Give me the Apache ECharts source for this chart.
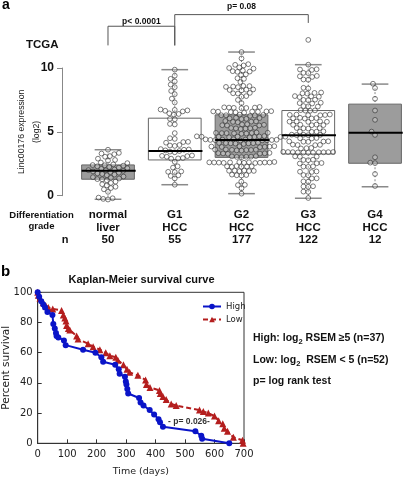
<!DOCTYPE html>
<html>
<head>
<meta charset="utf-8">
<script src="https://cdn.jsdelivr.net/npm/echarts@6/dist/echarts.min.js"></script>
<style>html,body{margin:0;padding:0;background:#fff}#c{width:404px;height:479px}</style>
</head>
<body>
<div id="c"></div>
<script>
// ---------- Panel a data ----------
const categories = ['normal\nliver', 'G1\nHCC', 'G2\nHCC', 'G3\nHCC', 'G4\nHCC'];
const groupN = [50, 55, 177, 122, 12];
const expressionTicks = [0, 5, 10];
const normalLiver = [3.6, 3.35, 3.3, 3.25, 3.1, 3.05, 2.9, 2.8, 2.75, 2.6, 2.55, 2.45, 2.4, 2.38, 2.35, 2.3, 2.25, 2.2, 2.15, 2.1,
  2.05, 2.0, 1.98, 1.95, 1.9, 1.85, 1.8, 1.75, 1.7, 1.65, 1.6, 1.5, 1.45, 1.4, 1.35, 1.3, 1.28, 1.2, 1.1, 1.0,
  0.9, 0.8, 0.7, 0.6, 0.5, 0.3, -0.15, -0.2, -0.25, -0.3];
const g1HCC = [9.87, 9.4, 9.15, 8.95, 8.7, 8.5, 8.2, 7.95, 7.6, 7.3, 6.75, 6.72, 6.68, 6.65, 6.6, 6.45, 6.4, 6.35,
  6.02, 5.98, 5.62, 5.58, 4.9, 4.5, 4.45, 4.22, 4.2, 4.15, 3.97, 3.93, 3.9, 3.65, 3.62, 3.6, 3.55, 3.5, 3.45, 3.4,
  3.15, 3.12, 3.1, 3.05, 2.95, 2.92, 2.9, 2.65, 2.3, 2.2, 1.9, 1.87, 1.85, 1.6, 1.55, 1.35, 0.86];
const g2HCC = [11.25, 10.75, 10.3, 10.25, 10.2, 10.05, 10.0, 9.95, 9.8, 9.75, 9.72, 9.7, 9.5, 9.45, 9.2, 9.15, 8.9,
  8.6, 8.58, 8.55, 8.52, 8.5, 8.32, 8.3, 8.28, 8.25, 8.05, 8.02, 8.0, 7.8, 7.75, 7.5, 7.25,
  6.95, 6.92, 6.9, 6.9, 6.88, 6.87, 6.85, 6.62, 6.6, 6.6, 6.58, 6.57, 6.55, 6.53, 6.5, 6.59,
  6.35, 6.32, 6.3, 6.3, 6.28, 6.25, 6.1, 6.08, 6.05, 6.02, 6.0, 5.85, 5.82, 5.8, 5.78, 5.75,
  5.6, 5.58, 5.55, 5.52, 5.5, 5.5, 5.32, 5.3, 5.28, 5.27, 5.25, 5.22,
  4.95, 4.93, 4.92, 4.9, 4.9, 4.88, 4.87, 4.85, 4.91, 4.67, 4.65, 4.63, 4.62, 4.62, 4.6, 4.6, 4.58, 4.57, 4.64, 4.61,
  4.41, 4.4, 4.39, 4.38, 4.37, 4.36, 4.35, 4.34, 4.33, 4.42, 4.32, 4.15, 4.13, 4.12, 4.1, 4.1, 4.08, 4.05, 4.11,
  3.88, 3.87, 3.85, 3.84, 3.83, 3.82, 3.8, 3.62, 3.6, 3.59, 3.58, 3.57, 3.55, 3.53, 3.61,
  3.35, 3.33, 3.32, 3.31, 3.3, 3.28, 3.1, 3.08, 3.06, 3.05, 3.04, 3.02,
  2.64, 2.63, 2.62, 2.61, 2.6, 2.6, 2.6, 2.59, 2.58, 2.58, 2.57, 2.56, 2.61, 2.32, 2.3, 2.3, 2.28, 2.27, 2.26,
  1.97, 1.96, 1.95, 1.94, 1.93, 1.92, 1.65, 1.62, 1.6, 1.58, 1.1, 0.85, 0.83, 0.58, 0.16];
const g3HCC = [12.2, 10.26, 9.9, 9.85, 9.88, 9.6, 9.62, 9.35, 9.3, 9.38, 9.08, 9.1, 8.45, 8.4, 8.05, 8.0, 8.02, 8.08,
  7.78, 7.75, 7.8, 7.72, 7.5, 7.52, 7.48, 7.25, 7.22, 7.28, 7.0, 6.98, 7.02, 6.68, 6.65, 6.7, 6.66,
  6.35, 6.32, 6.3, 6.36, 6.33, 6.31, 6.08, 6.05, 6.1, 6.06, 6.04, 5.8, 5.82, 5.78, 5.81, 5.79,
  5.55, 5.53, 5.57, 5.52, 5.56, 5.28, 5.3, 5.26, 5.29, 5.02, 5.0, 5.04, 5.01, 4.76, 4.75, 4.78, 4.74, 4.77,
  4.5, 4.52, 4.48, 4.24, 4.22, 4.26, 4.25, 4.23, 3.98, 3.96, 4.0, 3.97, 3.72, 3.7, 3.74,
  3.4, 3.42, 3.38, 3.41, 3.39, 3.43, 3.37, 3.4, 3.41, 3.38, 3.42, 3.06, 3.05, 3.08, 2.8, 2.82, 2.78,
  2.54, 2.52, 2.56, 2.28, 2.3, 2.26, 1.88, 1.86, 1.9, 1.62, 1.6, 1.36, 1.35, 1.1, 1.12,
  0.72, 0.7, 0.74, 0.32, 0.3, -0.18];
const g4HCC = [8.77, 8.43, 7.59, 6.67, 5.94, 5.02, 4.76, 3.01, 2.59, 2.55, 1.7, 0.76];
const groupValues = [normalLiver, g1HCC, g2HCC, g3HCC, g4HCC];
// [min, Q1, median, Q3, max]
const boxStats = [
  [-0.28, 1.29, 1.96, 2.41, 3.6],
  [0.86, 2.8, 3.5, 6.07, 9.87],
  [0.16, 3.0, 4.37, 6.33, 11.25],
  [-0.2, 3.27, 4.74, 6.67, 10.26],
  [0.7, 2.54, 4.92, 7.17, 8.74]
];
// significance brackets: [leftGroup, rightGroup, leftFoot, top, rightFoot]
const bracketA = [0, 1, 11.77, 13.27, 11.77];
const bracketB = [1, 3, 11.77, 14.18, 13.53];
const bracketLabels = ['p< 0.0001', 'p= 0.08'];

// ---------- Panel b data ----------
const survivalTicks = [0, 20, 40, 60, 80, 100];
const dayTicks = [0, 100, 200, 300, 400, 500, 600, 700];
const highDays = [0, 5, 12, 19, 25, 33, 50, 53, 58, 62, 64, 70, 89, 95, 154, 196, 216, 222, 263, 275, 278, 296, 299, 301, 304, 307, 344, 349, 359, 380, 395, 410, 415, 425, 535, 555, 558, 650];
const highSurvival = [100, 97, 94, 92, 90, 87, 85, 79, 76, 73, 71, 70, 68, 65, 62, 60, 57, 54, 52, 49, 46, 44, 41, 39, 36, 33, 30, 27, 25, 22, 19, 16, 14, 11, 8, 5, 3, 0];
const lowDays = [0, 2, 8, 19, 28, 36, 51, 81, 87, 92, 96, 98, 104, 109, 132, 137, 171, 188, 211, 231, 245, 265, 272, 291, 303, 312, 340, 366, 369, 381, 413, 416, 425, 436, 453, 470, 549, 562, 579, 600, 614, 628, 633, 644, 664, 695, 697];
const lowSurvival = [100, 98, 96, 93, 91, 90, 89, 88, 85, 83, 81, 78, 76, 75, 71, 69, 66, 64, 62, 60, 58, 57, 55, 52, 49, 47, 45, 42, 39, 37, 35, 33, 31, 29, 26, 25, 22, 21, 20, 18, 15, 13, 10, 8, 4, 2, 0];

const BOLD = 'Liberation Sans';
const DJ = 'DejaVu Sans';
const boxFills = ['#9c9c9c', '#ffffff', '#9c9c9c', '#ffffff', '#9c9c9c'];

const chart = echarts.init(document.getElementById('c'), null, {renderer: 'canvas', width: 404, height: 479});

const baseOption = {
  animation: false,
  backgroundColor: '#fff',
  grid: [
    {left: 62, right: 0, top: 68, bottom: 283.3, containLabel: false, outerBoundsMode: 'none'},
    {left: 37.7, right: 160, top: 292.3, bottom: 35.7, show: true, borderColor: '#333', borderWidth: 1, containLabel: false, outerBoundsMode: 'none'}
  ],
  xAxis: [
    {
      gridIndex: 0, type: 'value', min: -0.689, max: 4.434,
      axisLine: {show: false}, axisTick: {show: false}, splitLine: {show: false},
      axisLabel: {
        show: true, customValues: [0, 1, 2, 3, 4], margin: 13,
        formatter: v => categories[Math.round(v)] + '\n' + groupN[Math.round(v)],
        fontFamily: BOLD, fontWeight: 'bold', fontSize: 11.5, color: '#111', lineHeight: 12.5
      }
    },
    {
      gridIndex: 1, type: 'value', min: dayTicks[0], max: dayTicks[dayTicks.length - 1], interval: 100,
      axisLine: {show: true, onZero: false, lineStyle: {color: '#333'}},
      axisTick: {show: true, inside: true, length: 4, lineStyle: {color: '#333'}},
      splitLine: {show: false},
      axisLabel: {margin: 6, fontFamily: DJ, fontSize: 10, color: '#222'},
      name: 'Time (days)', nameLocation: 'middle', nameGap: 23, nameMoveOverlap: false,
      nameTextStyle: {fontFamily: DJ, fontSize: 9.5, color: '#222'}
    }
  ],
  yAxis: [
    {
      gridIndex: 0, type: 'value', min: expressionTicks[0], max: expressionTicks[2], interval: 5,
      axisLine: {show: true, onZero: false, lineStyle: {color: '#888'}},
      axisTick: {show: true, length: 5, lineStyle: {color: '#888'}},
      splitLine: {show: false},
      axisLabel: {margin: 8, fontFamily: BOLD, fontWeight: 'bold', fontSize: 12, color: '#111'},
      name: 'Linc00176 expression\n(log2)', nameLocation: 'middle', nameRotate: 90, nameGap: 18, nameMoveOverlap: false,
      nameTextStyle: {fontFamily: BOLD, fontSize: 8.7, color: '#222', lineHeight: 15}
    },
    {
      gridIndex: 1, type: 'value', min: survivalTicks[0], max: survivalTicks[survivalTicks.length - 1], interval: 20,
      axisLine: {show: true, onZero: false, lineStyle: {color: '#333'}},
      axisTick: {show: true, inside: true, length: 4, lineStyle: {color: '#333'}},
      splitLine: {show: false},
      axisLabel: {margin: 5, fontFamily: DJ, fontSize: 10, color: '#222'},
      name: 'Percent survival', nameLocation: 'middle', nameRotate: 90, nameGap: 26, nameMoveOverlap: false,
      nameTextStyle: {fontFamily: DJ, fontSize: 10.5, color: '#222'}
    }
  ],
  series: []
};
chart.setOption(baseOption);

// beeswarm layout (pixel space) so circles don't overlap
function swarmOffsets(values, yToPx, d) {
  const order = values.map((v, i) => i).sort((a, b) => values[a] - values[b]);
  const placed = [];
  const offs = new Array(values.length);
  for (const i of order) {
    const y = yToPx(values[i]);
    const cands = [0];
    const blocks = [];
    for (const p of placed) {
      const dy = Math.abs(p.y - y);
      if (dy < d) {
        const w = Math.sqrt(d * d - dy * dy);
        blocks.push([p.x - w, p.x + w]);
        cands.push(p.x - w, p.x + w);
      }
    }
    cands.sort((a, b) => Math.abs(a) - Math.abs(b));
    let best = 0;
    for (const c of cands) {
      if (blocks.every(b => c <= b[0] + 1e-6 || c >= b[1] - 1e-6)) { best = c; break; }
    }
    placed.push({x: best, y: y});
    offs[i] = best;
  }
  return offs;
}

const yToPx = v => chart.convertToPixel({yAxisIndex: 0}, v);
const pointData = [];
groupValues.forEach((vals, gi) => {
  const cx = chart.convertToPixel({xAxisIndex: 0}, gi);
  const offs = swarmOffsets(vals, yToPx, 4.8);
  vals.forEach((v, k) => {
    pointData.push([chart.convertFromPixel({xAxisIndex: 0}, cx + offs[k]), v]);
  });
});

const HALF_BOX = 0.395, HALF_CAP = 0.2;
const boxData = boxStats.map((s, i) => [i].concat(s));

function bracketSeries(b) {
  return {
    type: 'line', xAxisIndex: 0, yAxisIndex: 0, clip: false, symbol: 'none', silent: true, z: 5,
    lineStyle: {color: '#555', width: 1},
    data: [[b[0], b[2]], [b[0], b[3]], [b[1], b[3]], [b[1], b[4]]]
  };
}
function bracketLabel(b, text, lift) {
  const p = chart.convertToPixel({gridIndex: 0}, [(b[0] + b[1]) / 2, b[3]]);
  return {type: 'text', x: p[0], y: p[1] - lift, z: 10,
    style: {text: text, fontFamily: BOLD, fontWeight: 'bold', fontSize: 8.5, fill: '#111', align: 'center', verticalAlign: 'middle'}};
}

chart.setOption({
  legend: {
    show: true, orient: 'vertical', left: 197, top: 297, itemGap: 4, itemWidth: 18, itemHeight: 7,
    textStyle: {fontFamily: DJ, fontSize: 8.5, color: '#222'},
    data: ['High', 'Low']
  },
  series: [
    {
      type: 'custom', xAxisIndex: 0, yAxisIndex: 0, clip: false, z: 1, silent: true,
      data: boxData,
      renderItem: function (params, api) {
        const x = api.value(0), mn = api.value(1), q1 = api.value(2), q3 = api.value(4), mx = api.value(5);
        const tl = api.coord([x - HALF_BOX, q3]);
        const br = api.coord([x + HALF_BOX, q1]);
        const c = api.coord([x, mx]), cq3 = api.coord([x, q3]), cq1 = api.coord([x, q1]), cmn = api.coord([x, mn]);
        const capL = api.coord([x - HALF_CAP, mx])[0], capR = api.coord([x + HALF_CAP, mx])[0];
        const grey = '#8a8a8a';
        return {
          type: 'group', children: [
            {type: 'line', shape: {x1: c[0], y1: c[1], x2: cq3[0], y2: cq3[1]}, style: {stroke: grey, lineWidth: 1, lineDash: [2, 2]}},
            {type: 'line', shape: {x1: cq1[0], y1: cq1[1], x2: cmn[0], y2: cmn[1]}, style: {stroke: grey, lineWidth: 1, lineDash: [2, 2]}},
            {type: 'line', shape: {x1: capL, y1: c[1], x2: capR, y2: c[1]}, style: {stroke: grey, lineWidth: 1.5}},
            {type: 'line', shape: {x1: capL, y1: cmn[1], x2: capR, y2: cmn[1]}, style: {stroke: grey, lineWidth: 1.5}},
            {type: 'rect', shape: {x: tl[0], y: tl[1], width: br[0] - tl[0], height: br[1] - tl[1]},
              style: {fill: boxFills[params.dataIndex], stroke: '#666', lineWidth: 1}}
          ]
        };
      }
    },
    {
      type: 'scatter', xAxisIndex: 0, yAxisIndex: 0, clip: false, z: 2, silent: true,
      symbol: 'circle', symbolSize: 4.8,
      itemStyle: {color: 'rgba(255,255,255,0.35)', borderColor: '#333', borderWidth: 0.8},
      data: pointData
    },
    {
      type: 'custom', xAxisIndex: 0, yAxisIndex: 0, clip: false, z: 3, silent: true,
      data: boxData,
      renderItem: function (params, api) {
        const x = api.value(0), med = api.value(3);
        const a = api.coord([x - HALF_BOX, med]), b = api.coord([x + HALF_BOX + 0.02, med]);
        return {type: 'line', shape: {x1: a[0], y1: a[1], x2: b[0], y2: b[1]}, style: {stroke: '#000', lineWidth: 2}};
      }
    },
    bracketSeries(bracketA),
    bracketSeries(bracketB),
    {
      name: 'High', type: 'line', xAxisIndex: 1, yAxisIndex: 1, clip: false, z: 4,
      symbol: 'circle', symbolSize: 6, showAllSymbol: true,
      itemStyle: {color: '#0a14c8'}, lineStyle: {color: '#0a14c8', width: 2},
      data: highDays.map((d, i) => [d, highSurvival[i]])
    },
    {
      name: 'Low', type: 'line', xAxisIndex: 1, yAxisIndex: 1, clip: false, z: 3,
      symbol: 'triangle', symbolSize: 7, showAllSymbol: true,
      itemStyle: {color: '#b41e1e'}, lineStyle: {color: '#b41e1e', width: 2, type: [5, 3]},
      data: lowDays.map((d, i) => [d, lowSurvival[i]])
    }
  ],
  graphic: [
    bracketLabel(bracketA, bracketLabels[0], 5),
    bracketLabel(bracketB, bracketLabels[1], 7.7),
    {type: 'text', x: 2, y: 5, style: {text: 'a', fontFamily: BOLD, fontWeight: 'bold', fontSize: 14, fill: '#000', verticalAlign: 'middle'}},
    {type: 'text', x: 1, y: 272, style: {text: 'b', fontFamily: BOLD, fontWeight: 'bold', fontSize: 15, fill: '#000', verticalAlign: 'middle'}},
    {type: 'text', x: 26, y: 44.5, style: {text: 'TCGA', fontFamily: BOLD, fontWeight: 'bold', fontSize: 11.5, fill: '#111', verticalAlign: 'middle'}},
    {type: 'text', x: 41.5, y: 215, style: {text: 'Differentiation', fontFamily: BOLD, fontWeight: 'bold', fontSize: 9.5, fill: '#111', align: 'center', verticalAlign: 'middle'}},
    {type: 'text', x: 41.5, y: 226.5, style: {text: 'grade', fontFamily: BOLD, fontWeight: 'bold', fontSize: 9.5, fill: '#111', align: 'center', verticalAlign: 'middle'}},
    {type: 'text', x: 65, y: 239.5, style: {text: 'n', fontFamily: BOLD, fontWeight: 'bold', fontSize: 11, fill: '#111', align: 'center', verticalAlign: 'middle'}},
    {type: 'text', x: 141.5, y: 280, style: {text: 'Kaplan-Meier survival curve', fontFamily: BOLD, fontWeight: 'bold', fontSize: 11, fill: '#111', align: 'center', verticalAlign: 'middle'}},
    {type: 'text', x: 189, y: 421.5, style: {text: '- p= 0.026-', fontFamily: BOLD, fontWeight: 'bold', fontSize: 8.5, fill: '#333', align: 'center', verticalAlign: 'middle'}},
    {type: 'text', x: 253, y: 338.5, style: {
      text: '{b|High: log}{s|2}{b| RSEM \u22655 (n=37)}', verticalAlign: 'middle',
      rich: {b: {fontFamily: BOLD, fontWeight: 'bold', fontSize: 10.5, fill: '#111'}, s: {fontFamily: BOLD, fontWeight: 'bold', fontSize: 7.5, fill: '#111', padding: [7, 0, 0, 0]}}}},
    {type: 'text', x: 253, y: 360.5, style: {
      text: '{b|Low: log}{s|2}{b|  RSEM < 5 (n=52)}', verticalAlign: 'middle',
      rich: {b: {fontFamily: BOLD, fontWeight: 'bold', fontSize: 10.5, fill: '#111'}, s: {fontFamily: BOLD, fontWeight: 'bold', fontSize: 7.5, fill: '#111', padding: [7, 0, 0, 0]}}}},
    {type: 'text', x: 253, y: 381.5, style: {text: 'p= log rank test', fontFamily: BOLD, fontWeight: 'bold', fontSize: 10.5, fill: '#111', verticalAlign: 'middle'}}
  ]
});
</script>
</body>
</html>
